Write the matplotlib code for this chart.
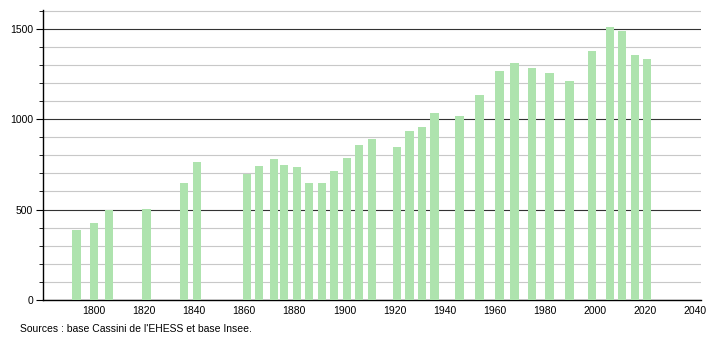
import matplotlib
matplotlib.use("Agg")
import matplotlib.pyplot as plt
from matplotlib.ticker import MultipleLocator

years = [1793, 1800, 1806, 1821, 1836, 1841, 1861, 1866, 1872, 1876, 1881, 1886,
         1891, 1896, 1901, 1906, 1911, 1921, 1926, 1931, 1936, 1946, 1954, 1962,
         1968, 1975, 1982, 1990, 1999, 2006, 2011, 2016, 2021]
population = [387, 427, 497, 503, 646, 762, 696, 742, 779, 748, 735, 645,
              648, 713, 785, 856, 890, 844, 934, 956, 1035, 1018, 1134, 1267,
              1308, 1282, 1256, 1212, 1378, 1507, 1486, 1354, 1332]
x_ticks = [1800, 1820, 1840, 1860, 1880, 1900, 1920, 1940, 1960, 1980, 2000, 2020, 2040]
y_ticks = [0, 500, 1000, 1500]
source_text = "Sources : base Cassini de l'EHESS et base Insee."

plt.rcParams['font.family'] = ['Liberation Sans', 'DejaVu Sans']

fig = plt.figure(figsize=(7.1, 3.4), dpi=100)
ax = fig.add_axes([43/710, 1 - 300/340, (701 - 43)/710, (300 - 10)/340])

ax.bar(years, population, width=3.3, color='#aee3ae', zorder=3, linewidth=0)

ax.set_xlim(1779.6, 2042.5)
ax.set_ylim(0, 1603)
ax.set_xticks(x_ticks)
ax.set_yticks(y_ticks)
ax.yaxis.set_minor_locator(MultipleLocator(100))

ax.grid(axis='y', which='minor', color='#c8c8c8', linewidth=0.8, zorder=0)
ax.grid(axis='y', which='major', color='#333333', linewidth=0.8, zorder=1)
ax.set_axisbelow(True)

for s in ['top', 'right']:
    ax.spines[s].set_visible(False)
ax.spines['left'].set_color('black')
ax.spines['bottom'].set_color('black')
ax.spines['left'].set_linewidth(1.0)
ax.spines['bottom'].set_linewidth(1.0)

ax.tick_params(axis='y', which='major', length=5, labelsize=7.5, pad=2)
ax.tick_params(axis='y', which='minor', length=3)
ax.tick_params(axis='x', which='major', length=0, labelsize=7.5, pad=4)

fig.text(20/710, 1 - 329/340, source_text, fontsize=7.5, va='center', ha='left')

fig.savefig('out.png', dpi=100)
